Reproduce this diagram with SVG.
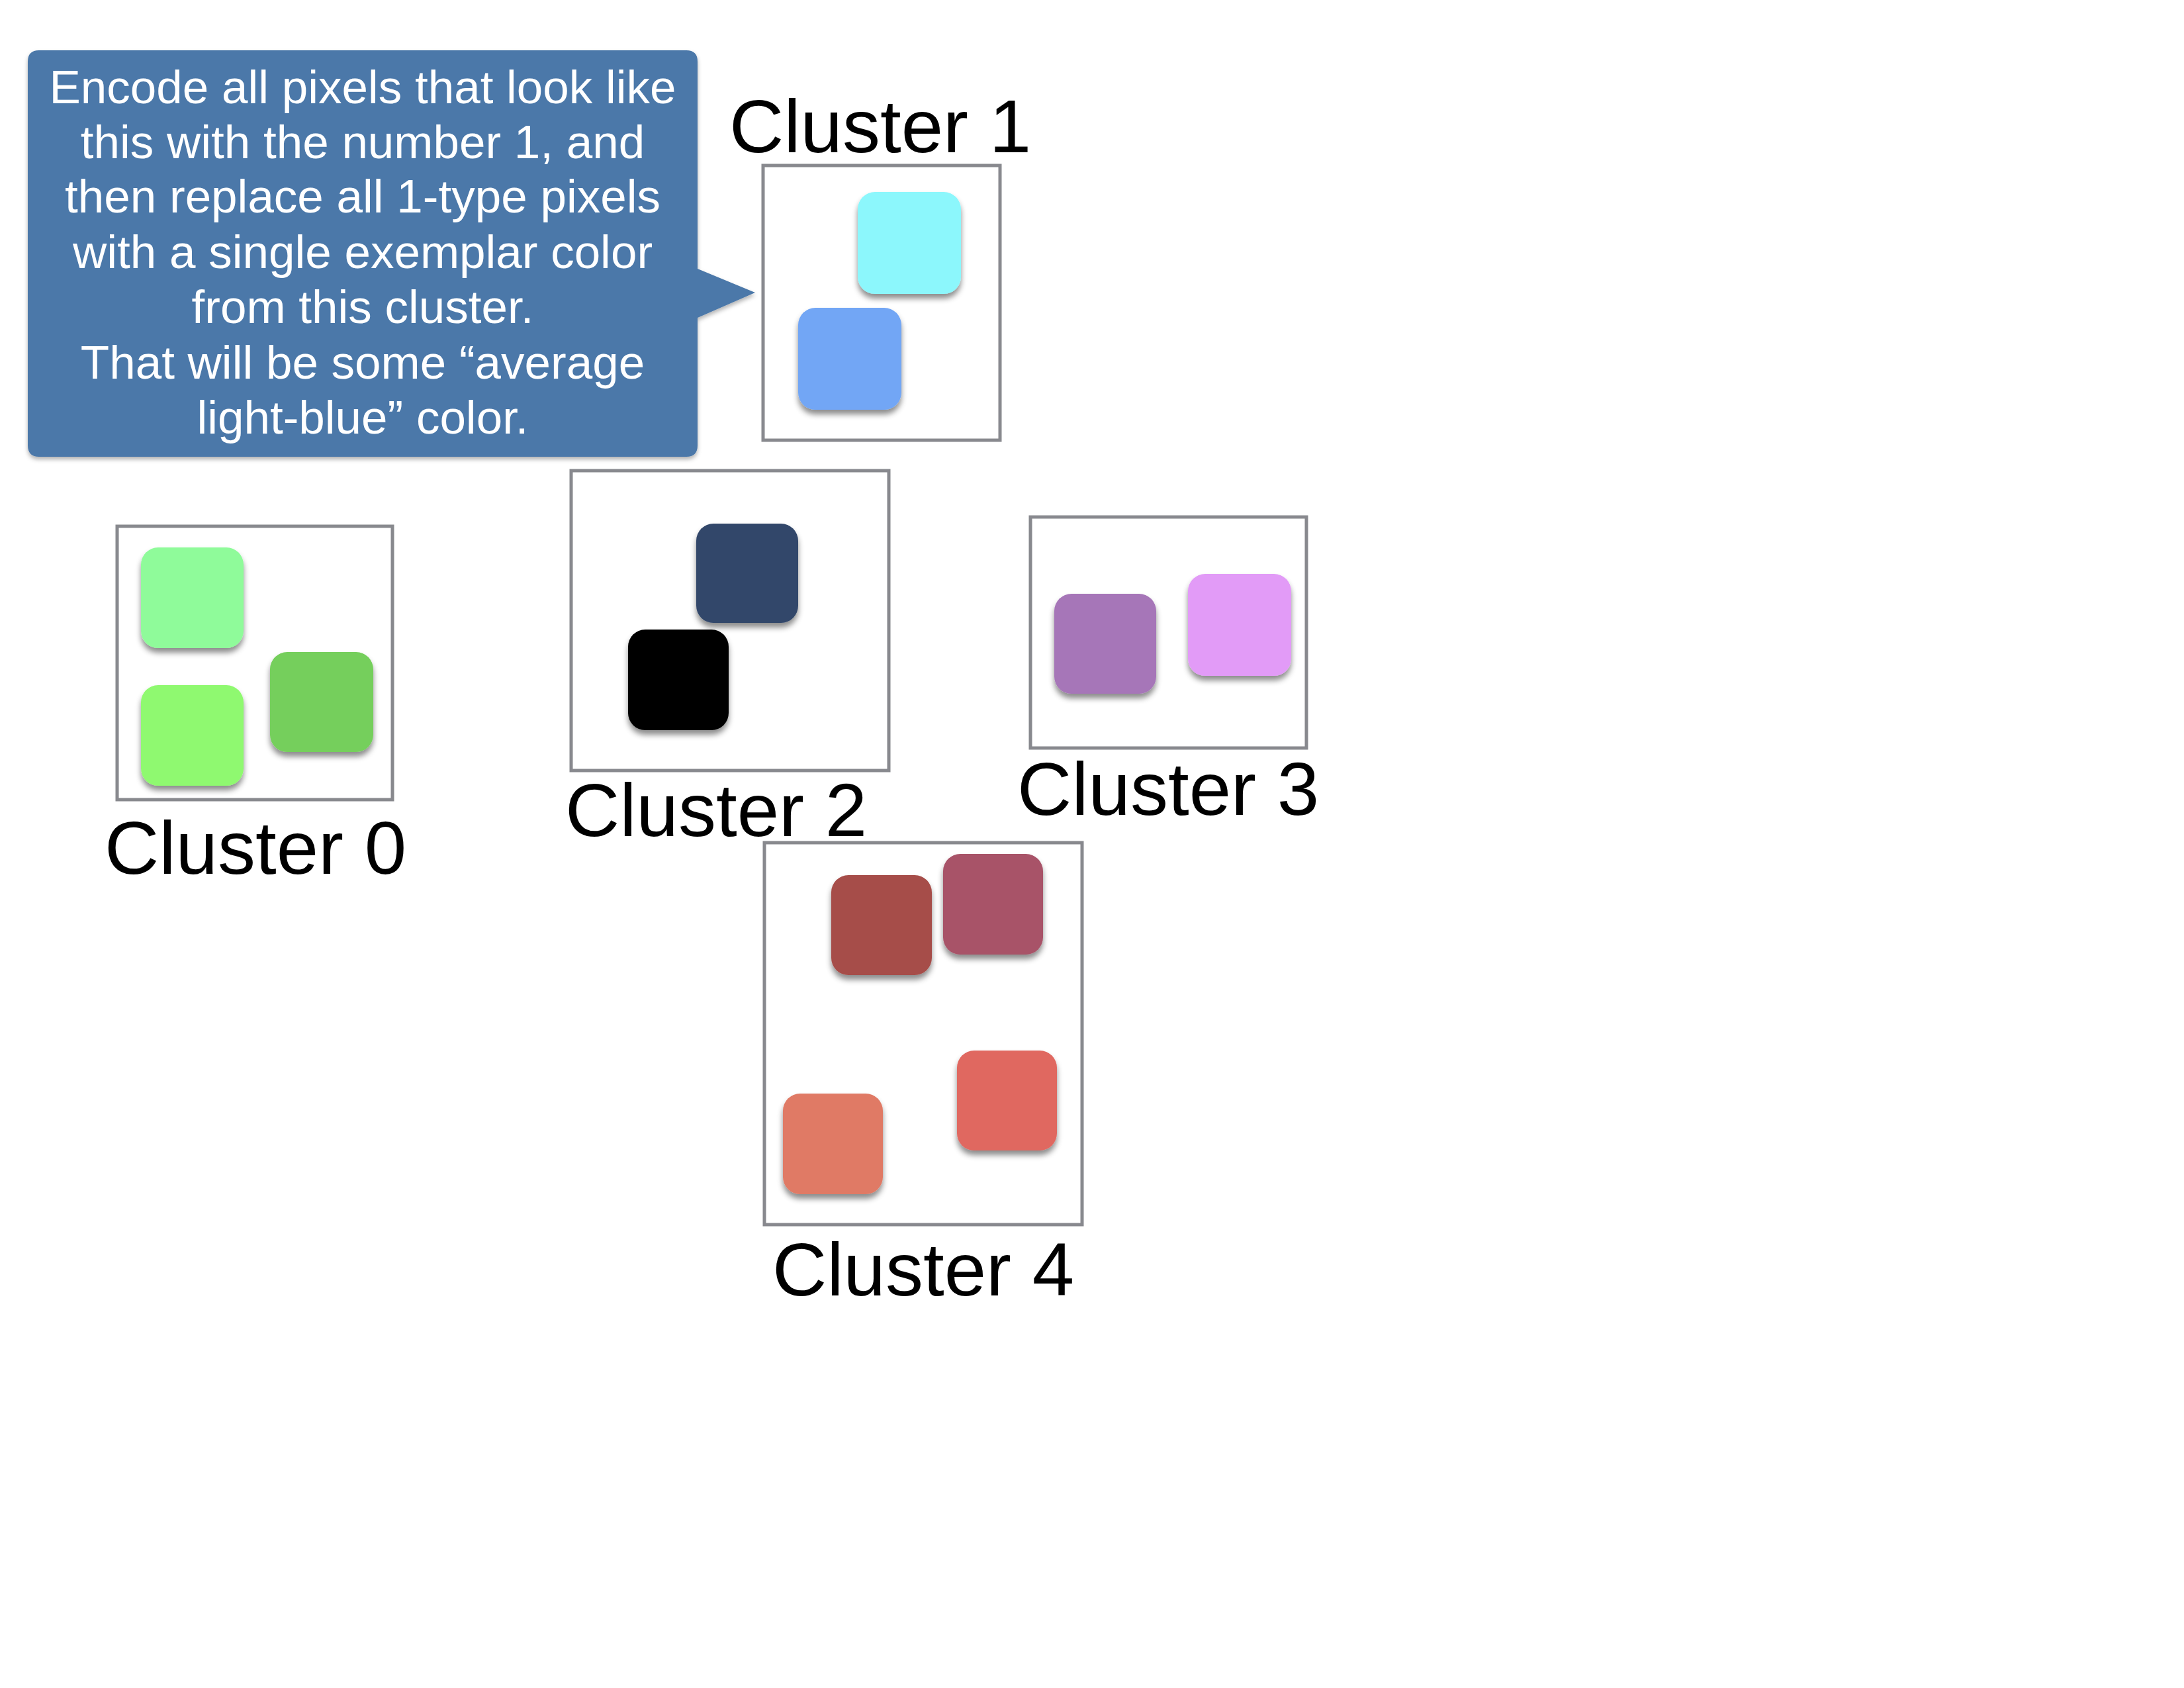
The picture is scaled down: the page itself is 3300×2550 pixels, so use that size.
<svg xmlns="http://www.w3.org/2000/svg" width="3300" height="2550" viewBox="0 0 3300 2550">
<defs>
<filter id="sh" x="-20%" y="-20%" width="140%" height="150%">
<feDropShadow dx="0" dy="7" stdDeviation="4" flood-color="#000" flood-opacity="0.45"/>
</filter>
<filter id="csh" x="-5%" y="-5%" width="110%" height="115%">
<feDropShadow dx="0" dy="4" stdDeviation="3" flood-color="#000" flood-opacity="0.3"/>
</filter>
</defs>
<style>
.frame{fill:#fff;stroke:#88898e;stroke-width:5}
.sq{filter:url(#sh)}
.lbl{font-family:"Liberation Sans",Arial,sans-serif;font-size:114px;fill:#000;text-anchor:middle}
.ct{font-family:"Liberation Sans",Arial,sans-serif;font-size:71px;fill:#fff;text-anchor:middle}
</style>
<rect width="3300" height="2550" fill="#fff"/>

<g id="callout">
<path filter="url(#csh)" fill="#4b78a9" d="M59,76 H1037 Q1054,76 1054,93 V406 L1141,442 L1054,480 V673 Q1054,690 1037,690 H59 Q42,690 42,673 V93 Q42,76 59,76 Z"/>
<text class="ct" x="548" y="156">Encode all pixels that look like</text>
<text class="ct" x="548" y="239">this with the number 1, and</text>
<text class="ct" x="548" y="321">then replace all 1-type pixels</text>
<text class="ct" x="548" y="405">with a single exemplar color</text>
<text class="ct" x="548" y="488">from this cluster.</text>
<text class="ct" x="548" y="572">That will be some “average</text>
<text class="ct" x="548" y="655">light-blue” color.</text>
</g>

<g id="cluster1">
<text class="lbl" x="1330" y="230">Cluster 1</text>
<rect class="frame" x="1153" y="250" width="358" height="415"/>
<rect class="sq" x="1296" y="290" width="156" height="154" rx="26" fill="#8cf7fc"/>
<rect class="sq" x="1206" y="465" width="156" height="154" rx="26" fill="#72a6f5"/>
</g>

<g id="cluster0">
<rect class="frame" x="177" y="795" width="416" height="413"/>
<rect class="sq" x="213" y="827" width="155" height="152" rx="26" fill="#8ffb9a"/>
<rect class="sq" x="408" y="985" width="156" height="151" rx="26" fill="#75cf5b"/>
<rect class="sq" x="213" y="1035" width="155" height="152" rx="26" fill="#8ff96f"/>
<text class="lbl" x="386" y="1320">Cluster 0</text>
</g>

<g id="cluster2">
<rect class="frame" x="863" y="711" width="480" height="453"/>
<rect class="sq" x="1052" y="791" width="154" height="150" rx="26" fill="#32476a"/>
<rect class="sq" x="949" y="951" width="152" height="152" rx="26" fill="#000"/>
<text class="lbl" x="1082" y="1263">Cluster 2</text>
</g>

<g id="cluster3">
<rect class="frame" x="1557" y="781" width="417" height="349"/>
<rect class="sq" x="1593" y="897" width="154" height="151" rx="26" fill="#a676b8"/>
<rect class="sq" x="1795" y="867" width="156" height="154" rx="26" fill="#e29bf7"/>
<text class="lbl" x="1765" y="1231">Cluster 3</text>
</g>

<g id="cluster4">
<rect class="frame" x="1155" y="1273" width="480" height="577"/>
<rect class="sq" x="1256" y="1322" width="152" height="151" rx="26" fill="#a64e48"/>
<rect class="sq" x="1425" y="1290" width="151" height="152" rx="26" fill="#a85268"/>
<rect class="sq" x="1183" y="1652" width="151" height="152" rx="26" fill="#e07a65"/>
<rect class="sq" x="1446" y="1587" width="151" height="151" rx="26" fill="#e06760"/>
<text class="lbl" x="1395" y="1957">Cluster 4</text>
</g>

<g id="connectors"/>
</svg>
